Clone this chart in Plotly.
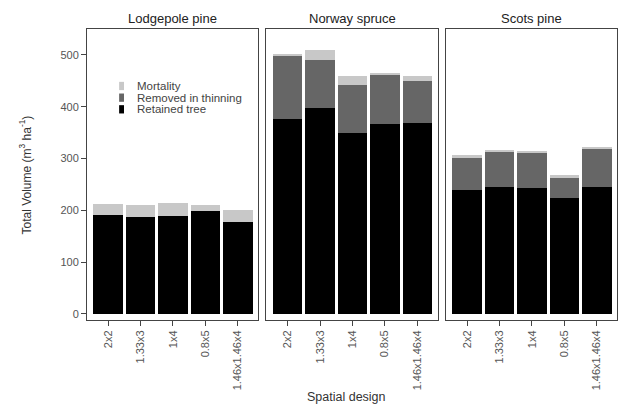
import plotly.graph_objects as go
from plotly.subplots import make_subplots

designs = ["2x2", "1.33x3", "1x4", "0.8x5", "1.46x1.46x4"]
species = ["Lodgepole pine", "Norway spruce", "Scots pine"]
series_names = ["Retained tree", "Removed in thinning", "Mortality"]
series_colors = ["#000000", "#666666", "#c8c8c8"]

retained = {
    "Lodgepole pine": [192, 188, 190, 199, 178],
    "Norway spruce": [376, 398, 350, 367, 369],
    "Scots pine": [240, 246, 244, 223, 246],
}
thinning = {
    "Lodgepole pine": [0, 0, 0, 0, 0],
    "Norway spruce": [122, 92, 92, 96, 80],
    "Scots pine": [61, 68, 68, 40, 72],
}
mortality = {
    "Lodgepole pine": [21, 22, 25, 11, 22],
    "Norway spruce": [4, 20, 18, 2, 11],
    "Scots pine": [5, 2, 1, 5, 4],
}
y_ticks = [0, 100, 200, 300, 400, 500]

FONT = "Liberation Sans, Arial, sans-serif"

fig = make_subplots(rows=1, cols=3, shared_yaxes=True, horizontal_spacing=0.016)

for c, sp in enumerate(species, start=1):
    for name, color, data in zip(series_names, series_colors, [retained, thinning, mortality]):
        fig.add_trace(go.Bar(x=designs, y=data[sp], name=name, marker_color=color,
                             marker_line_width=0, showlegend=False, hoverinfo="skip"),
                      row=1, col=c)

tick_font = dict(family=FONT, size=11, color="#555555")
for c in range(1, 4):
    fig.update_xaxes(row=1, col=c, type="category", range=[-0.65, 4.62], tickangle=-90,
                     ticks="outside", ticklen=5, tickcolor="#444", showline=True, linecolor="#444",
                     linewidth=1, mirror=True, tickfont=tick_font, showgrid=False, automargin=False)
    fig.update_yaxes(row=1, col=c, range=[-11.6, 550], showline=True, linecolor="#444",
                     linewidth=1, mirror=True, showgrid=False, zeroline=False,
                     tickvals=y_ticks, ticks="outside" if c == 1 else "",
                     ticklen=5, tickcolor="#444", showticklabels=(c == 1), tickfont=tick_font,
                     automargin=False)

# panel titles
for c, sp in enumerate(species, start=1):
    xa = fig.layout["xaxis" if c == 1 else f"xaxis{c}"]
    d = xa.domain
    fig.add_annotation(text=sp, x=(d[0] + d[1]) / 2, y=1, xref="paper", yref="paper",
                       xanchor="center", yanchor="middle", yshift=11, showarrow=False,
                       font=dict(family=FONT, size=13, color="#222"))

fig.add_annotation(text="Total Volume (m<sup>3</sup> ha<sup>-1</sup>)", x=-0.117, y=0.5,
                   xref="paper", yref="paper", textangle=-90, showarrow=False,
                   xanchor="center", yanchor="middle",
                   font=dict(family=FONT, size=12, color="#333"))

fig.add_annotation(text="Spatial design", x=0.49, y=-0.265, xref="paper", yref="paper",
                   xanchor="center", showarrow=False, yanchor="middle",
                   font=dict(family=FONT, size=12.5, color="#333"))

# manual legend inside first panel
legend_items = list(zip(series_names, series_colors))[::-1]
for i, (name, color) in enumerate(legend_items):
    yc = 440 - i * 22.5
    fig.add_shape(type="rect", xref="x", yref="y", x0=0.34, x1=0.49, y0=yc - 8, y1=yc + 8,
                  fillcolor=color, line_width=0)
    fig.add_annotation(text=name, xref="x", yref="y", x=0.82, y=yc, xanchor="left",
                       showarrow=False, font=dict(family=FONT, size=11.5, color="#444"))

fig.update_layout(barmode="stack", bargap=0.09, width=622, height=405,
                  margin=dict(l=87, r=5, t=29, b=85),
                  plot_bgcolor="white", paper_bgcolor="white", showlegend=False)

fig.write_html("out.html", config={"displayModeBar": False},
               post_script="document.body.style.margin='0';")
